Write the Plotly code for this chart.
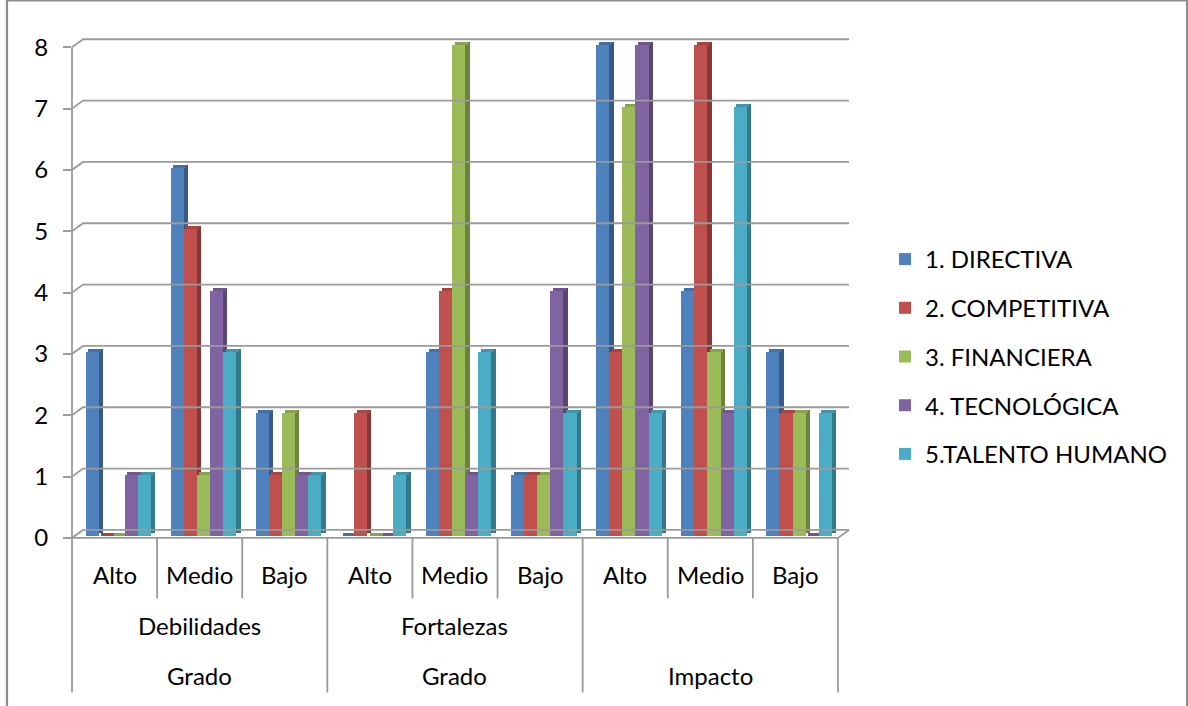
import plotly.graph_objects as go

# ---- data ----
levels_top = ["Grado", "Grado", "Impacto"]
levels_mid = ["Debilidades", "Fortalezas", ""]
levels_low = ["Alto", "Medio", "Bajo"]
series_names = ["1. DIRECTIVA", "2. COMPETITIVA", "3. FINANCIERA", "4. TECNOLÓGICA", "5.TALENTO HUMANO"]
directiva   = [3, 6, 2, 0, 3, 1, 8, 4, 3]
competitiva = [0, 5, 1, 2, 4, 1, 3, 8, 2]
financiera  = [0, 1, 2, 0, 8, 1, 7, 3, 2]
tecnologica = [1, 4, 1, 0, 1, 4, 8, 2, 0]
talento     = [1, 3, 1, 1, 3, 2, 2, 7, 2]
y_ticks = [0, 1, 2, 3, 4, 5, 6, 7, 8]

series_values = [directiva, competitiva, financiera, tecnologica, talento]
front_colors = ["#4F81BD", "#C0504D", "#9BBB59", "#8064A2", "#4BACC6"]
side_colors = ["#375A84", "#863836", "#6C833E", "#5A4671", "#347889"]
top_colors = ["#4470A6", "#A64542", "#87A44D", "#6F578D", "#4196AD"]

n_cat = 9
X_MAX = 9.2
Y_MIN, Y_MAX = -0.05, 8.2
PX_X = 85.1
PX_Y = 61.25
L = 72
T = 35.45
W_PLOT = X_MAX * PX_X
H_PLOT = (Y_MAX - Y_MIN) * PX_Y
R = 1188 - L - W_PLOT
B = 706 - T - H_PLOT

DX, DY = 11 / PX_X, 8 / PX_Y          # back wall offset
BW = 13.1 / PX_X                      # bar width
SHIFT = 3.7 / PX_X
B0 = 2.0 / PX_Y                       # bar base
SD = 4.4 / PX_X                       # side depth
SDY = 3.0 / PX_Y

def py_paper(p):
    return (T + H_PLOT - p) / H_PLOT

fig = go.Figure()
for s, (name, vals) in enumerate(zip(series_names, series_values)):
    xc = [c + 0.5 + SHIFT + (s - 2) * BW for c in range(n_cat)]
    # side face
    fig.add_trace(go.Bar(x=[x + BW / 2 + SD / 2 for x in xc], y=vals, base=B0 + SDY, width=SD,
                         marker=dict(color=side_colors[s], line=dict(width=0)),
                         showlegend=False, hoverinfo="skip"))
    # top face
    fig.add_trace(go.Bar(x=[x + SD * 0.6 for x in xc], y=[SDY] * n_cat,
                         base=[B0 + v for v in vals], width=BW,
                         marker=dict(color=top_colors[s], line=dict(width=0)),
                         showlegend=False, hoverinfo="skip"))
    # front face
    fig.add_trace(go.Bar(x=xc, y=vals, base=B0, width=BW, name=name,
                         legendgroup=name,
                         marker=dict(color=front_colors[s], line=dict(width=0))))

grid_col = "#9a9a9a"
shapes = []
# gridlines / back wall
for v in y_ticks:
    shapes.append(dict(type="path", xref="x", yref="y",
                       path=f"M 0,{v} L {DX},{v + DY} L {9 + DX},{v + DY}",
                       line=dict(color=grid_col, width=1.8)))
# floor front and right edges
shapes.append(dict(type="path", xref="x", yref="y",
                   path=f"M 0,0 L 9,0 L {9 + DX},{DY}",
                   line=dict(color=grid_col, width=1.8)))
# y axis line
shapes.append(dict(type="line", xref="paper", yref="y", x0=0, x1=0, y0=0, y1=8,
                   line=dict(color=grid_col, width=1.8)))
# category dividers
y_axis_p = py_paper(537.7)
for c in range(n_cat + 1):
    xp = c / X_MAX
    if c % 3 == 0:
        y_end = py_paper(692)
    else:
        y_end = py_paper(598)
    shapes.append(dict(type="line", xref="paper", yref="paper", x0=xp, x1=xp,
                       y0=y_axis_p, y1=y_end, line=dict(color=grid_col, width=1.8)))
# chart border
shapes.append(dict(type="rect", xref="paper", yref="paper",
                   x0=(7 - L) / W_PLOT, x1=(1187 - L) / W_PLOT,
                   y0=py_paper(760), y1=py_paper(1),
                   line=dict(color="#8c8c8c", width=2.2)))

FONT = "Lato"
FS = 24
annotations = []
def label(xp, yp, txt):
    annotations.append(dict(xref="paper", yref="paper", x=xp, y=yp, text=txt,
                            xanchor="center", yanchor="middle", showarrow=False,
                            font=dict(family=FONT, size=FS, color="#000000")))
for c in range(n_cat):
    label((c + 0.5) / X_MAX, py_paper(574), levels_low[c % 3])
for g in range(3):
    if levels_mid[g]:
        label((3 * g + 1.5) / X_MAX, py_paper(625), levels_mid[g])
    label((3 * g + 1.5) / X_MAX, py_paper(675), levels_top[g])

fig.update_layout(
    width=1188, height=706,
    margin=dict(l=L, r=R, t=T, b=B, pad=0),
    paper_bgcolor="white", plot_bgcolor="white",
    barmode="overlay", bargap=0,
    font=dict(family=FONT, size=FS, color="#000000"),
    xaxis=dict(range=[0, X_MAX], showgrid=False, zeroline=False, showticklabels=False,
               ticks="", showline=False, fixedrange=True),
    yaxis=dict(range=[Y_MIN, Y_MAX], tickvals=y_ticks, showgrid=False, zeroline=False,
               ticks="outside", ticklen=8, tickwidth=1.8, tickcolor=grid_col,
               showline=False, ticklabelstandoff=10,
               tickfont=dict(family=FONT, size=FS, color="#000000")),
    legend=dict(xref="container", yref="container", x=885 / 1188, y=1 - 237 / 706,
                xanchor="left", yanchor="top", tracegroupgap=14.5,
                font=dict(family=FONT, size=FS, color="#000000"),
                bgcolor="rgba(0,0,0,0)"),
    shapes=shapes, annotations=annotations,
)

fig.write_html("out.html")
